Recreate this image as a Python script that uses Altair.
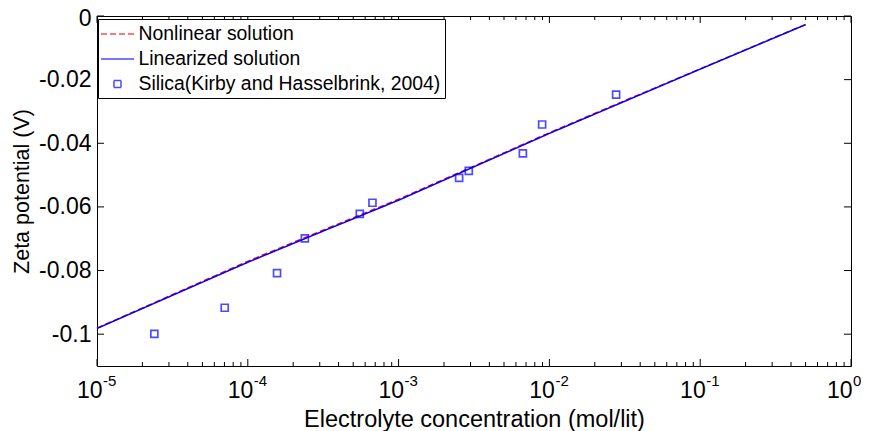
import altair as alt
import pandas as pd

# ---- data ----
series_names = ["Nonlinear solution", "Linearized solution",
                "Silica(Kirby and Hasselbrink, 2004)"]

conc_line = [1e-5, 3.16e-5, 1e-4, 3.16e-4, 1e-3, 3.16e-3, 1e-2, 3.16e-2, 1e-1, 3.16e-1, 5e-1]
zeta_nonlinear = [-0.0981, -0.0876, -0.0771, -0.0673, -0.0576, -0.0472, -0.0367, -0.0266, -0.0166, -0.0066, -0.0027]
zeta_linearized = [-0.0982, -0.0878, -0.0774, -0.0676, -0.0579, -0.0474, -0.0369, -0.0268, -0.0167, -0.0067, -0.0027]

conc_silica = [2.40e-5, 7.03e-5, 1.563e-4, 2.39e-4, 5.53e-4, 6.71e-4, 2.52e-3, 2.92e-3, 6.67e-3, 8.95e-3, 2.77e-2]
zeta_silica = [-0.0999, -0.0917, -0.0808, -0.0699, -0.0622, -0.0587, -0.0509, -0.0487, -0.0432, -0.0341, -0.0247]

x_major = [1e-5, 1e-4, 1e-3, 1e-2, 1e-1, 1.0]
x_minor = [m * 10.0 ** k for k in range(-5, 0) for m in range(2, 10)]
y_major = [0.0, -0.02, -0.04, -0.06, -0.08, -0.1]

# ---- tables ----
df_lines = pd.concat([
    pd.DataFrame({"c": conc_line, "zeta": zeta_nonlinear, "series": series_names[0]}),
    pd.DataFrame({"c": conc_line, "zeta": zeta_linearized, "series": series_names[1]}),
])
df_pts = pd.DataFrame({"c": conc_silica, "zeta": zeta_silica, "series": series_names[2]})
df_xmaj = pd.DataFrame({"v": x_major})
df_xmin = pd.DataFrame({"v": x_minor})
df_ymaj = pd.DataFrame({"v": y_major})

W, H = 754, 350
FONT = "Liberation Sans"
MAJ, MIN = 7, 4
SYM = 400

xscale = alt.Scale(type="log", domain=[1e-5, 1], nice=False)
yscale = alt.Scale(domain=[-0.11, 0], nice=False, zero=False)
color_scale = alt.Scale(domain=series_names, range=["#ff0000", "#0000ff", "#0000ff"])
dash_scale = alt.Scale(domain=series_names, range=[[6, 3], [1, 0], [1, 0]])
line_path = "M-1.65,0H1.65"
square_path = "M-0.35,-0.35H0.35V0.35H-0.35Z"
shape_scale = alt.Scale(domain=series_names, range=[line_path, line_path, square_path])

legend = alt.Legend(title=None, orient="none", legendX=1, legendY=3)

exp_label_expr = ("datum.value < 5e-5 ? '-5' : datum.value < 5e-4 ? '-4' : "
                  "datum.value < 5e-3 ? '-3' : datum.value < 5e-2 ? '-2' : "
                  "datum.value < 0.5 ? '-1' : '0'")
y_label_expr = ("datum.value == 0 ? '0' : datum.value < -0.09 ? '-0.1' : "
                "'-0.0' + round(-datum.value * 100)")

# base "10" of the x tick labels (carries the x title)
xaxis_base = alt.Axis(values=x_major, orient="bottom", ticks=False, domain=False, grid=False,
                      labelExpr="'10'", labelAlign="right",
                      labelOffset={"condition": {"test": "datum.value > 0.5", "value": 1}, "value": 5},
                      labelFontSize=23, labelFont=FONT, labelColor="black", labelPadding=13,
                      labelFlush=False, labelOverlap=False,
                      titleFontSize=23.5, titleFont=FONT, titleColor="black",
                      titleFontWeight="normal", titlePadding=5)
# exponents of the x tick labels
xaxis_exp = alt.Axis(values=x_major, orient="bottom", ticks=False, domain=False, grid=False,
                     labelExpr=exp_label_expr, labelAlign="left",
                     labelOffset={"condition": {"test": "datum.value > 0.5", "value": 1.5}, "value": 5.5},
                     labelFontSize=15, labelFont=FONT, labelColor="black", labelPadding=7,
                     labelFlush=False, labelOverlap=False, title=None)
yaxis = alt.Axis(values=y_major, ticks=False, domain=False, grid=False,
                 labelExpr=y_label_expr,
                 labelOffset={"condition": {"test": "datum.value == 0", "value": 2.5}, "value": 0},
                 labelFontSize=23, labelFont=FONT, labelColor="black", labelPadding=6,
                 labelFlush=False, labelOverlap=False,
                 titleFontSize=21.5, titleFont=FONT, titleColor="black",
                 titleFontWeight="normal", titlePadding=5)

lines = alt.Chart(df_lines).mark_line(strokeWidth=1.5).encode(
    x=alt.X("c:Q", scale=xscale, axis=xaxis_base, title="Electrolyte concentration (mol/lit)"),
    y=alt.Y("zeta:Q", scale=yscale, axis=yaxis, title="Zeta potential (V)"),
    color=alt.Color("series:N", scale=color_scale, legend=legend),
    strokeDash=alt.StrokeDash("series:N", scale=dash_scale, legend=legend),
)

points = alt.Chart(df_pts).mark_point(filled=False, size=SYM, strokeWidth=1.7).encode(
    x=alt.X("c:Q", scale=xscale, axis=None),
    y=alt.Y("zeta:Q", scale=yscale),
    color=alt.Color("series:N", scale=color_scale, legend=legend),
    shape=alt.Shape("series:N", scale=shape_scale, legend=legend),
)


def xticks(df, length, exp_axis=False):
    bottom = alt.Chart(df).mark_rule(color="black", strokeWidth=1).encode(
        x=alt.X("v:Q", scale=xscale, axis=xaxis_exp if exp_axis else None),
        y=alt.value(H), y2=alt.value(H - length))
    top = alt.Chart(df).mark_rule(color="black", strokeWidth=1).encode(
        x=alt.X("v:Q", scale=xscale, axis=None),
        y=alt.value(0), y2=alt.value(length))
    return [bottom, top]


def yticks(df, length):
    left = alt.Chart(df).mark_rule(color="black", strokeWidth=1).encode(
        y=alt.Y("v:Q", scale=yscale),
        x=alt.value(0), x2=alt.value(length))
    right = alt.Chart(df).mark_rule(color="black", strokeWidth=1).encode(
        y=alt.Y("v:Q", scale=yscale),
        x=alt.value(W), x2=alt.value(W - length))
    return [left, right]


layers = ([lines, points] + xticks(df_xmaj, MAJ, exp_axis=True)
          + xticks(df_xmin, MIN) + yticks(df_ymaj, MAJ))

chart = alt.layer(*layers).resolve_axis(x="independent").properties(
    width=W, height=H,
    autosize=alt.AutoSizeParams(type="none"),
    padding={"left": 89, "top": 8, "right": 10, "bottom": 65},
    background="white",
).configure_view(
    stroke="black", strokeWidth=1
).configure_legend(
    fillColor="white", strokeColor="black", padding=4, cornerRadius=0,
    labelFont=FONT, labelFontSize=19.4, labelColor="black", labelLimit=600,
    labelOffset=10, symbolOffset=4.5, rowPadding=4, symbolSize=SYM, symbolStrokeWidth=1.5,
    symbolFillColor="transparent",
)

chart.save("out.html", embed_options={"renderer": "svg", "actions": False})
